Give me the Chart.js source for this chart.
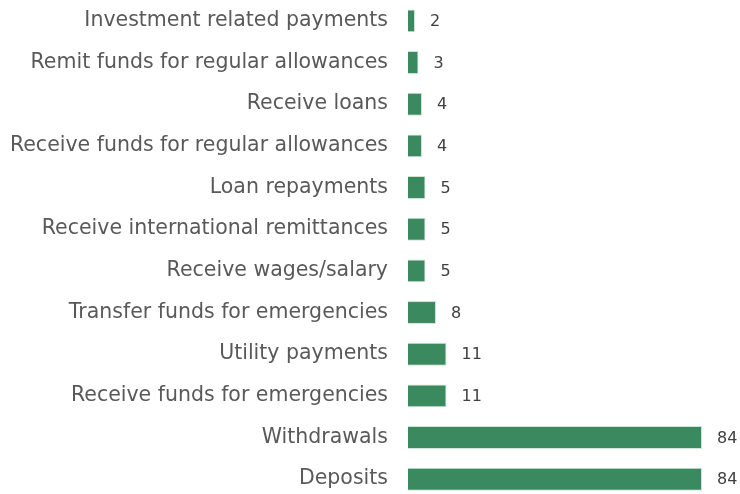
<!DOCTYPE html>
<html>
<head>
<meta charset="utf-8">
<script src="https://cdn.jsdelivr.net/npm/chart.js@4"></script>
<style>
  html, body { margin: 0; padding: 0; background: #fff; overflow: hidden; }
  #wrap { width: 740px; height: 500px; position: relative; }
</style>
</head>
<body>
<div id="wrap"><canvas id="bars"></canvas></div>
<script>
const categories = [
  "Investment related payments",
  "Remit funds for regular allowances",
  "Receive loans",
  "Receive funds for regular allowances",
  "Loan repayments",
  "Receive international remittances",
  "Receive wages/salary",
  "Transfer funds for emergencies",
  "Utility payments",
  "Receive funds for emergencies",
  "Withdrawals",
  "Deposits"
];
const values = [2, 3, 4, 4, 5, 5, 5, 8, 11, 11, 84, 84];

// draws the number right of each bar
const valueLabels = {
  id: "valueLabels",
  afterDatasetsDraw(chart) {
    const ctx = chart.ctx;
    const meta = chart.getDatasetMeta(0);
    ctx.save();
    ctx.font = "16px 'DejaVu Sans'";
    ctx.fillStyle = "#404040";
    ctx.textAlign = "left";
    ctx.textBaseline = "middle";
    meta.data.forEach((bar, i) => {
      ctx.fillText(values[i], bar.x + 15, bar.y + 1);
    });
    ctx.restore();
  }
};

new Chart(document.getElementById("bars"), {
  type: "bar",
  data: {
    labels: categories,
    datasets: [{
      data: values,
      backgroundColor: "#3b8a5f",
      borderColor: "#cfe3d6",
      borderWidth: 1,
      barPercentage: 0.55,
      categoryPercentage: 1
    }]
  },
  options: {
    indexAxis: "y",
    responsive: true,
    maintainAspectRatio: false,
    animation: false,
    layout: { padding: { top: 0, right: 38, bottom: 0, left: 0 } },
    plugins: { legend: { display: false }, tooltip: { enabled: false } },
    scales: {
      x: { display: false, min: 0, max: 84 },
      y: {
        afterFit(scale) {
          scale.width = 408;
          scale.paddingTop = 0;
          scale.paddingBottom = 0;
        },
        grid: { display: false },
        border: { display: false },
        ticks: {
          padding: 12,
          color: "#595959",
          font: { family: "'DejaVu Sans'", size: 20.5 }
        }
      }
    }
  },
  plugins: [valueLabels]
});
</script>
</body>
</html>
